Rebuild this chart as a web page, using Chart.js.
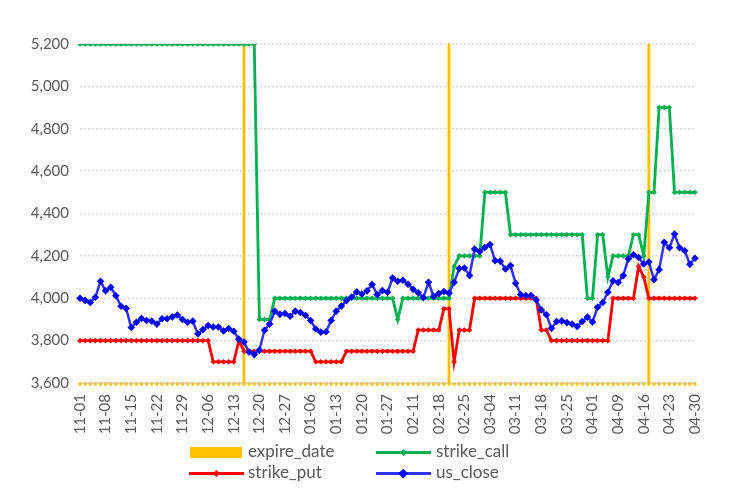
<!DOCTYPE html>
<html><head><meta charset="utf-8">
<script src="https://cdn.jsdelivr.net/npm/chart.js@4.4.1/dist/chart.umd.min.js"></script>
<style>
html,body{margin:0;padding:0;background:#fff;}
#wrap{position:relative;width:733px;height:491px;overflow:hidden;}
#c{position:absolute;left:0;top:0;}
.lgt{position:absolute;font-family:Lato,sans-serif;font-size:17px;color:#595959;line-height:20px;white-space:nowrap;}
.lgl{position:absolute;height:3px;}
.lgm{position:absolute;transform:rotate(45deg);}
.lgb{position:absolute;}
</style></head><body>
<div id="wrap"><canvas id="c" width="733" height="491"></canvas><div id="legend"></div></div>
<script>
const dates = [
 '11-01','11-04','11-05','11-06','11-07','11-08','11-11','11-12','11-13','11-14',
 '11-15','11-18','11-19','11-20','11-21','11-22','11-25','11-26','11-27','11-28',
 '11-29','12-02','12-03','12-04','12-05','12-06','12-09','12-10','12-11','12-12',
 '12-13','12-16','12-17','12-18','12-19','12-20','12-23','12-24','12-25','12-26',
 '12-27','12-30','12-31','01-02','01-03','01-06','01-07','01-08','01-09','01-10',
 '01-13','01-14','01-15','01-16','01-17','01-20','01-21','01-22','01-23','01-24',
 '01-27','02-05','02-06','02-07','02-10','02-11','02-12','02-13','02-14','02-17',
 '02-18','02-19','02-20','02-21','02-24','02-25','02-26','02-27','02-28','03-03',
 '03-04','03-05','03-06','03-07','03-10','03-11','03-12','03-13','03-14','03-17',
 '03-18','03-19','03-20','03-21','03-24','03-25','03-26','03-27','03-28','03-31',
 '04-01','04-02','04-03','04-07','04-08','04-09','04-10','04-11','04-14','04-15',
 '04-16','04-17','04-18','04-21','04-22','04-23','04-24','04-25','04-28','04-29',
 '04-30'
];
const expireDates = ['12-17','02-20','04-17'];
const strikeCall = [
 5200,5200,5200,5200,5200,5200,5200,5200,5200,5200,
 5200,5200,5200,5200,5200,5200,5200,5200,5200,5200,
 5200,5200,5200,5200,5200,5200,5200,5200,5200,5200,
 5200,5200,5200,5200,5200,3900,3900,3900,4000,4000,
 4000,4000,4000,4000,4000,4000,4000,4000,4000,4000,
 4000,4000,4000,4000,4000,4000,4000,4000,4000,4000,
 4000,4000,3900,4000,4000,4000,4000,4000,4000,4000,
 4000,4000,4000,4150,4200,4200,4200,4200,4200,4500,
 4500,4500,4500,4500,4300,4300,4300,4300,4300,4300,
 4300,4300,4300,4300,4300,4300,4300,4300,4300,4000,
 4000,4300,4300,4100,4200,4200,4200,4200,4300,4300,
 4200,4500,4500,4900,4900,4900,4500,4500,4500,4500,
 4500
];
const strikePut = [
 3800,3800,3800,3800,3800,3800,3800,3800,3800,3800,
 3800,3800,3800,3800,3800,3800,3800,3800,3800,3800,
 3800,3800,3800,3800,3800,3800,3700,3700,3700,3700,
 3700,3800,3750,3750,3750,3750,3750,3750,3750,3750,
 3750,3750,3750,3750,3750,3750,3700,3700,3700,3700,
 3700,3700,3750,3750,3750,3750,3750,3750,3750,3750,
 3750,3750,3750,3750,3750,3750,3850,3850,3850,3850,
 3850,3950,3950,3700,3850,3850,3850,4000,4000,4000,
 4000,4000,4000,4000,4000,4000,4000,4000,4000,4000,
 3850,3850,3800,3800,3800,3800,3800,3800,3800,3800,
 3800,3800,3800,3800,4000,4000,4000,4000,4000,4150,
 4100,4000,4000,4000,4000,4000,4000,4000,4000,4000,
 4000
];
const usClose = [
 4000,3990,3980,4005,4080,4035,4052,4012,3962,3952,
 3862,3887,3905,3895,3892,3878,3903,3903,3912,3921,
 3900,3887,3892,3832,3852,3871,3864,3864,3846,3857,
 3844,3807,3793,3746,3734,3755,3849,3878,3939,3924,
 3928,3915,3939,3933,3920,3895,3855,3840,3842,3895,
 3939,3963,3989,4006,4030,4020,4035,4065,4017,4036,
 4028,4095,4080,4085,4066,4042,4026,4003,4075,4009,
 4022,4032,4024,4075,4140,4143,4107,4232,4221,4240,
 4254,4177,4175,4138,4154,4071,4017,4013,4013,3992,
 3945,3922,3858,3890,3893,3885,3878,3867,3890,3911,
 3888,3958,3980,4028,4082,4074,4107,4187,4205,4192,
 4162,4171,4088,4135,4264,4238,4303,4238,4224,4160,
 4189
];
const yTicks = {min:3600, max:5200, step:200};

const expireData = dates.map(d => expireDates.includes(d) ? 1 : 0);

const C = {exp:'#ffc000', call:'#00b050', put:'#ff0000', close:'#3030ff', closePt:'#0000ff'};
const TXT = '#595959';

Chart.defaults.font.family = 'Lato, sans-serif';
Chart.defaults.color = TXT;

new Chart(document.getElementById('c'), {
  data: {
    labels: dates,
    datasets: [
      {type:'line', label:'us_close', data:usClose, borderColor:C.close, backgroundColor:C.closePt,
       pointBackgroundColor:C.closePt, pointBorderColor:C.closePt, borderWidth:2.5, pointStyle:'rectRot',
       pointRadius:3.8, pointBorderWidth:0, tension:0, order:0, yAxisID:'y'},
      {type:'line', label:'strike_put', data:strikePut, borderColor:C.put, backgroundColor:C.put,
       pointBackgroundColor:C.put, pointBorderColor:C.put, borderWidth:2.8, pointStyle:'rectRot',
       pointRadius:2.8, pointBorderWidth:0, tension:0, order:1, yAxisID:'y'},
      {type:'line', label:'strike_call', data:strikeCall, borderColor:C.call, backgroundColor:C.call,
       pointBackgroundColor:C.call, pointBorderColor:C.call, borderWidth:2.8, pointStyle:'rectRot',
       pointRadius:2.8, pointBorderWidth:0, tension:0, order:2, yAxisID:'y'},
      {type:'bar', label:'expire_date', data:expireData, backgroundColor:C.exp, borderWidth:0,
       barThickness:2.2, base:-0.007, clip:false, order:3, yAxisID:'y2'}
    ]
  },
  options: {
    responsive:false, animation:false, devicePixelRatio:1,
    layout:{padding:{left:0, right:38, top:44, bottom:48}},
    plugins:{legend:{display:false}, tooltip:{enabled:false}},
    scales:{
      x:{type:'category', offset:false, z:1,
         grid:{display:false, drawTicks:false},
         border:{display:true, color:'#d9d9d9', width:2},
         ticks:{autoSkip:false, maxRotation:90, minRotation:90, padding:11,
                font:{size:15}, color:TXT,
                callback:function(v,i){ return i%5===0 ? this.getLabelForValue(v) : ''; }},
         afterFit(s){ s.height = 60; }},
      y:{min:yTicks.min, max:yTicks.max,
         ticks:{stepSize:yTicks.step, padding:11, font:{size:15}, color:TXT},
         grid:{color:'#d9d9d9', lineWidth:1.5, drawTicks:false},
         border:{display:false, dash:[2,2]},
         afterFit(s){ s.width = 80; }},
      y2:{display:false, min:0, max:1}
    }
  }
});

// legend (HTML, two rows)
const lg = document.getElementById('legend');
function add(cls, css, text){ const e=document.createElement('div'); e.className=cls; Object.assign(e.style, css); if(text) e.textContent=text; lg.appendChild(e); }
const items = [
  {label:'expire_date', kind:'box', color:C.exp, x:190, y:452, tx:248},
  {label:'strike_call', kind:'line', color:C.call, pt:C.call, ms:5, x:376, y:452, tx:436},
  {label:'strike_put', kind:'line', color:C.put, pt:C.put, ms:5, x:189, y:473, tx:248},
  {label:'us_close', kind:'line', color:C.close, pt:C.closePt, ms:6.5, x:376, y:473, tx:436}
];
items.forEach(it => {
  if (it.kind === 'box') {
    add('lgb', {left:it.x+'px', top:(it.y-5.5)+'px', width:'52px', height:'11px', background:it.color});
  } else {
    add('lgl', {left:it.x+'px', top:(it.y-1.5)+'px', width:'55px', background:it.color});
    add('lgm', {left:(it.x+27.5-it.ms/2)+'px', top:(it.y-it.ms/2)+'px', width:it.ms+'px', height:it.ms+'px', background:it.pt});
  }
  add('lgt', {left:it.tx+'px', top:(it.y-11)+'px'}, it.label);
});
</script>
</body></html>
